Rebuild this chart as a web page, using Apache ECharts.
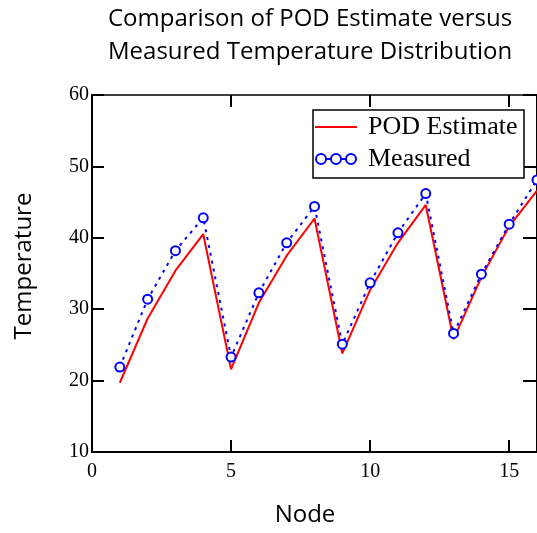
<!DOCTYPE html>
<html>
<head>
<meta charset="utf-8">
<title>POD Estimate vs Measured Temperature</title>
<script src="https://cdn.jsdelivr.net/npm/echarts@6/dist/echarts.min.js"></script>
<style>
  html, body { margin: 0; padding: 0; background: #ffffff; }
  #chart { width: 537px; height: 533px; }
</style>
</head>
<body>
<div id="chart"></div>
<script>
// Node numbers along the bar
const nodes = [1, 2, 3, 4, 5, 6, 7, 8, 9, 10, 11, 12, 13, 14, 15, 16];
// Temperature reconstructed from the POD modes
const podEstimate = [19.7, 28.7, 35.4, 40.5, 21.6, 30.9, 37.5, 42.7, 23.8, 32.7, 39.3, 44.6, 25.8, 34.5, 41.6, 46.6];
// Temperature read from the thermocouples
const measured = [21.9, 31.4, 38.2, 42.8, 23.3, 32.3, 39.3, 44.4, 25.1, 33.7, 40.7, 46.2, 26.6, 34.9, 41.9, 48.1];

const seriesNames = ['POD Estimate', 'Measured'];
const titleLines = ['Comparison of POD Estimate versus', 'Measured Temperature Distribution'];
const xName = 'Node';
const yName = 'Temperature';

const serif = '"Liberation Serif", "Times New Roman", serif';
const sans = '"Open Sans", "Noto Sans", sans-serif';

const toPairs = (vals) => nodes.map((n, i) => [n, vals[i]]);

const frameAxis = {
  axisLine: { show: true, onZero: false, lineStyle: { color: '#000', width: 2 } },
  axisTick: { show: true, inside: true, length: 12, lineStyle: { color: '#000', width: 2 } },
  splitLine: { show: false }
};

const chart = echarts.init(document.getElementById('chart'), null, { renderer: 'canvas' });

chart.setOption({
  animation: false,
  backgroundColor: '#ffffff',
  title: {
    text: titleLines.join('\n'),
    left: 108,
    top: 3,
    padding: 0,
    textStyle: { fontFamily: sans, fontSize: 24, fontWeight: 'normal', lineHeight: 33, color: '#000' }
  },
  grid: { left: 92, top: 95, width: 447, height: 357, containLabel: false },
  legend: {
    orient: 'vertical',
    left: 314,
    top: 114,
    padding: 0,
    itemWidth: 42,
    itemHeight: 10,
    itemGap: 6,
    textStyle: { fontFamily: serif, fontSize: 26, color: '#000', lineHeight: 26, padding: [0, 0, 0, 6] },
    data: [
      { name: seriesNames[0], itemStyle: { opacity: 0 } },
      {
        name: seriesNames[1],
        icon: 'path://M1,5a5,5 0 1,0 10,0a5,5 0 1,0 -10,0M11,5H16M16,5a5,5 0 1,0 10,0a5,5 0 1,0 -10,0M26,5H31M31,5a5,5 0 1,0 10,0a5,5 0 1,0 -10,0',
        itemStyle: { color: 'rgba(0,0,0,0)', borderColor: '#0000ff', borderWidth: 2 }
      }
    ]
  },
  graphic: [{
    type: 'rect',
    z: 3,
    shape: { x: 313, y: 110, width: 211, height: 68 },
    style: { fill: '#ffffff', stroke: '#000000', lineWidth: 1.5 }
  }],
  xAxis: [
    Object.assign({
      type: 'value', position: 'bottom', min: 0, max: 16, interval: 5,
      name: xName, nameLocation: 'middle', nameGap: 51,
      nameTextStyle: { fontFamily: sans, fontSize: 24, color: '#000', padding: [0, 19, 0, 0] },
      axisLabel: { fontFamily: serif, fontSize: 20, color: '#000', margin: 10, showMaxLabel: false }
    }, frameAxis),
    Object.assign({
      type: 'value', position: 'top', min: 0, max: 16, interval: 5,
      axisLabel: { show: false }
    }, frameAxis, { axisLine: { show: true, onZero: false, lineStyle: { color: '#000', width: 1.5 } } })
  ],
  yAxis: [
    Object.assign({
      type: 'value', position: 'left', min: 10, max: 60, interval: 10,
      name: yName, nameLocation: 'middle', nameGap: 56,
      nameTextStyle: { fontFamily: sans, fontSize: 24, color: '#000', padding: [0, 0, 0, 15] },
      axisLabel: { fontFamily: serif, fontSize: 20, color: '#000', margin: 3 }
    }, frameAxis),
    Object.assign({
      type: 'value', position: 'right', min: 10, max: 60, interval: 10,
      axisLabel: { show: false }
    }, frameAxis, { axisTick: { show: true, inside: true, length: 14, lineStyle: { color: '#000', width: 2 } } })
  ],
  series: [
    {
      name: seriesNames[0],
      type: 'line',
      data: toPairs(podEstimate),
      symbol: 'none',
      z: 2,
      lineStyle: { color: '#ff0000', width: 2 },
      itemStyle: { color: '#ff0000' }
    },
    {
      name: seriesNames[1],
      type: 'line',
      data: toPairs(measured),
      symbol: 'emptyCircle',
      symbolSize: 9,
      z: 2,
      lineStyle: { color: '#0000ff', width: 2, type: [3, 5] },
      itemStyle: { color: '#0000ff', borderColor: '#0000ff', borderWidth: 2 }
    }
  ]
});
</script>
</body>
</html>
